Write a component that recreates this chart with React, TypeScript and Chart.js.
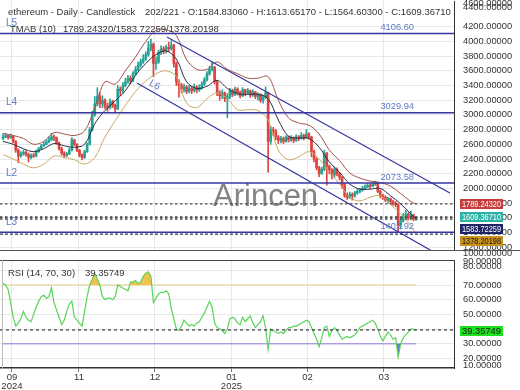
import React, { useEffect, useRef } from 'react';
import { Chart, registerables } from 'chart.js';

Chart.register(...registerables);

const FONT = '"Liberation Sans", Arial, sans-serif';

// ---------- price data (daily candles) ----------
const firstOpen = 2680;
const closes = [
  2700, 2720, 2690, 2710, 2640, 2520, 2440, 2470, 2490, 2460,
  2420, 2450, 2440, 2500, 2540, 2580, 2600, 2630, 2660, 2700,
  2690, 2620, 2540, 2480, 2450, 2470, 2520, 2660, 2600, 2520,
  2450, 2420, 2500, 2600, 2800, 3000, 3150, 3250, 3150, 3200,
  3120, 3100, 3180, 3130, 3080, 3350, 3330, 3400, 3450, 3500,
  3470, 3560, 3620, 3680, 3720, 3760, 3820, 3900, 3960, 3700,
  3720, 3850, 3900, 3870, 3920, 3900, 3950, 3700, 3450, 3400,
  3350, 3380, 3320, 3360, 3330, 3380, 3340, 3370, 3420, 3480,
  3560, 3620, 3650, 3450, 3300, 3260, 3300, 3220, 3250, 3330,
  3280, 3350, 3300, 3260, 3340, 3300, 3330, 3270, 3310, 3250,
  3280, 3200, 3240, 3300, 2640, 2800, 2780, 2700, 2650, 2680,
  2640, 2700, 2660, 2690, 2650, 2700, 2680, 2720, 2690, 2740,
  2700, 2500, 2400, 2280, 2200, 2260, 2480, 2300, 2250, 2180,
  2260, 2200, 2150, 2050, 1900, 1880, 1920, 1900, 1940, 1960,
  1980, 2000, 2020, 2040, 2030, 2060, 2080, 1960, 1900, 1880,
  1840, 1860, 1820, 1800, 1780, 1500, 1560, 1620, 1650, 1600,
  1640, 1584.8306, 1609.3671,
];
const highs = [
  2740, 2750, 2730, 2740, 2720, 2650, 2540, 2500, 2520, 2510,
  2480, 2470, 2480, 2520, 2560, 2600, 2630, 2660, 2700, 2750,
  2730, 2700, 2630, 2560, 2500, 2490, 2550, 2690, 2670, 2610,
  2530, 2470, 2520, 2620, 2830, 3050, 3250, 3370, 3300, 3260,
  3220, 3160, 3220, 3200, 3150, 3400, 3380, 3440, 3500, 3540,
  3530, 3590, 3660, 3720, 3760, 3820, 3860, 4000, 4030, 3980,
  3790, 3880, 3940, 3930, 3950, 3990, 4010, 3960, 3720, 3480,
  3430, 3420, 3400, 3400, 3390, 3420, 3400, 3410, 3450, 3510,
  3590, 3660, 3720, 3660, 3470, 3330, 3340, 3310, 3290, 3360,
  3350, 3380, 3370, 3320, 3370, 3350, 3360, 3340, 3340, 3320,
  3300, 3290, 3270, 3380, 3310, 2840, 2830, 2800, 2720, 2710,
  2700, 2720, 2710, 2720, 2700, 2730, 2720, 2760, 2740, 2800,
  2760, 2710, 2520, 2420, 2300, 2290, 2520, 2490, 2320, 2270,
  2290, 2280, 2220, 2160, 2070, 1940, 1950, 1940, 1960, 1990,
  2000, 2030, 2050, 2070, 2060, 2080, 2100, 2080, 1980, 1920,
  1900, 1880, 1870, 1840, 1820, 1790, 1600, 1660, 1700, 1670,
  1690, 1650, 1613.6517,
];
const lows = [
  2660, 2690, 2670, 2680, 2620, 2490, 2350, 2420, 2450, 2440,
  2360, 2400, 2420, 2430, 2490, 2530, 2570, 2590, 2620, 2650,
  2650, 2600, 2520, 2450, 2415, 2430, 2460, 2510, 2580, 2500,
  2430, 2386, 2410, 2490, 2590, 2780, 2980, 3120, 3100, 3100,
  3080, 3050, 3080, 3100, 3030, 3070, 3260, 3300, 3380, 3430,
  3420, 3450, 3540, 3600, 3650, 3700, 3740, 3800, 3870, 3520,
  3620, 3700, 3820, 3830, 3840, 3860, 3880, 3650, 3400, 3240,
  3300, 3310, 3290, 3300, 3290, 3310, 3300, 3320, 3350, 3400,
  3460, 3540, 3600, 3420, 3260, 3200, 3220, 3180, 2960, 3220,
  3250, 3260, 3270, 3230, 3250, 3260, 3280, 3240, 3250, 3220,
  3200, 3170, 3160, 3220, 2220, 2600, 2720, 2660, 2610, 2620,
  2610, 2630, 2630, 2640, 2620, 2640, 2650, 2670, 2660, 2680,
  2670, 2430, 2360, 2250, 2160, 2190, 2240, 2045, 2200, 2130,
  2150, 2170, 2115, 2000, 1880, 1850, 1860, 1840, 1880, 1920,
  1940, 1960, 1990, 2010, 2000, 2020, 2040, 1940, 1870, 1850,
  1820, 1800, 1790, 1770, 1750, 1403, 1450, 1540, 1600, 1570,
  1590, 1560, 1564.603,
];

// ---------- TMAB (10) bands, read at these bar indices ----------
const bandIdx = [
  0, 4, 8, 12, 16, 20, 24, 28, 32, 36, 40, 44, 48, 52, 56, 60, 64, 68, 72, 76, 80,
  84, 88, 92, 96, 100, 104, 108, 112, 116, 120, 124, 128, 132, 136, 140, 144, 148, 152, 156, 160, 162,
];
const bandUpper = [
  2750, 2720, 2680, 2600, 2640, 2760, 2740, 2720, 2780, 3100, 3450, 3420, 3600, 3790, 4000, 4150, 4160, 4080, 3750, 3620, 3620,
  3720, 3620, 3560, 3500, 3500, 3520, 3200, 2960, 2890, 2860, 2740, 2520, 2380, 2210, 2140, 2100, 2080, 2030, 1930, 1820, 1789.2432,
];
const bandMid = [
  2640, 2600, 2540, 2500, 2540, 2610, 2580, 2560, 2600, 2880, 3060, 3190, 3330, 3540, 3700, 3820, 3870, 3760, 3450, 3360, 3390,
  3470, 3360, 3290, 3280, 3280, 3220, 2930, 2710, 2685, 2680, 2560, 2360, 2220, 2060, 1990, 1990, 2000, 1900, 1790, 1650, 1583.72259,
];
const bandLower = [
  2460, 2400, 2330, 2280, 2330, 2440, 2420, 2390, 2330, 2420, 2700, 2920, 3130, 3320, 3460, 3560, 3600, 3520, 3160, 3100, 3220,
  3300, 3220, 3070, 3070, 3060, 2930, 2520, 2390, 2430, 2500, 2400, 2230, 2060, 1880, 1830, 1880, 1900, 1780, 1650, 1490, 1378.20198,
];

// ---------- RSI (14) ----------
const rsi = [
  71, 70, 67, 58, 48, 42, 44, 47, 52, 48,
  46, 45, 50, 55, 59, 62, 63, 61, 62, 68,
  58, 53, 48, 43, 46, 52, 57, 59, 48, 46,
  44, 42, 52, 62, 70, 74, 78, 74, 70, 62,
  60, 61, 61, 60, 62, 70, 69, 68, 67, 66,
  72, 72, 73, 71, 72, 76, 78, 79, 76, 58,
  61, 64, 65, 65, 66, 64, 54, 47, 40, 39,
  42, 46, 44, 42, 43, 42, 44, 45, 48, 51,
  55, 59, 55, 44, 41, 40, 39, 37, 40, 47,
  48, 47, 44, 43, 48, 45, 47, 49, 44, 41,
  43, 45, 49, 41, 26, 40, 39, 38, 37, 38,
  37, 39, 41, 41, 42, 42, 43, 44, 45, 46,
  45, 41, 37, 33, 28, 34, 41, 42, 35, 39,
  41, 39, 36, 33, 34, 35, 34, 35, 36, 38,
  41, 42, 43, 44, 45, 46, 44, 40, 35, 32,
  35, 38, 36, 33, 34, 21, 30, 34, 36, 38,
  40, 40, 39.35749,
];
const rsiUpperLevel = 70;
const rsiLowerLevel = 30;

// ---------- drawn levels / channel ----------
const levelNames = ['L5', 'L4', 'L2', 'L3'];
const levelValues = [4106.6, 3029.94, 2073.58, 1402.92];
const upperChannelX = [64.3, 175.3];
const upperChannelY = [4060, 1937];
const lowerChannelX = [52.5, 168.2];
const lowerChannelY = [3434, 1149];

// ---------- axes ----------
const monthTickIdx = [3.5, 29.8, 59.6, 89.6, 119.4, 149.4];
const monthTickLabels = [['09', '2024'], ['11'], ['12'], ['01', '2025'], ['02'], ['03']];
const priceTicks = [1200, 1400, 1600, 1800, 2000, 2200, 2400, 2600, 2800, 3000, 3200, 3400, 3600, 3800, 4000, 4200];
const priceEdgeTop = [4600, 4400];
const priceEdgeBottom = [1000];
const rsiTicks = [20, 30, 40, 50, 60, 70, 80];
const rsiEdgeTop = [90, 80];
const rsiEdgeBottom = [10];

const xMin = -1.18;
const xMax = 176.9;
const priceMin = 1161.9;
const priceMax = 4549.7;
const rsiMin = 13.44;
const rsiMax = 87.04;

const opens = closes.map((c, i) => (i === 0 ? firstOpen : closes[i - 1]));
const last = closes.length - 1;
const UP = '#25a396';
const DOWN = '#e0433f';
const candleColors = closes.map((c, i) => (c >= opens[i] ? UP : DOWN));
const LEVEL_COLOR = '#3636a0';
const LABEL_COLOR = '#5b7cc7';
const TEXT = '#333333';

function txt(ctx: CanvasRenderingContext2D, s: string, x: number, y: number, size: number, color: string, align: CanvasTextAlign = 'left', maxW?: number) {
  ctx.save();
  ctx.font = `${size}px ${FONT}`;
  ctx.fillStyle = color;
  ctx.textAlign = align;
  ctx.textBaseline = 'middle';
  if (maxW) ctx.fillText(s, x, y, maxW);
  else ctx.fillText(s, x, y);
  ctx.restore();
}

function badge(ctx: CanvasRenderingContext2D, s: string, yc: number, bg: string, fg: string) {
  const x0 = 460, w = 43, h = 10;
  ctx.save();
  ctx.fillStyle = bg;
  ctx.fillRect(x0, Math.round(yc - h / 2), w, h);
  ctx.restore();
  txt(ctx, s, x0 + w / 2, yc + 0.5, 9.3, fg, 'center', 39);
}

function hline(value: number, color: string, width: number, dash: number[] = [], order = 1) {
  return {
    type: 'line' as const,
    data: [{ x: xMin, y: value }, { x: xMax, y: value }],
    borderColor: color,
    borderWidth: width,
    borderDash: dash,
    pointRadius: 0,
    order,
  };
}

function noPad(s: any) {
  s.paddingTop = 0;
  s.paddingBottom = 0;
  s.paddingLeft = 0;
  s.paddingRight = 0;
}

const mainDecor = {
  id: 'mainDecor',
  beforeDatasetsDraw(chart: any) {
    const ctx = chart.ctx;
    ctx.save();
    ctx.font = `31px ${FONT}`;
    ctx.fillStyle = 'rgba(100,100,100,0.8)';
    ctx.textBaseline = 'alphabetic';
    ctx.fillText('Arincen', 213, 206);
    ctx.restore();
  },
  afterDatasetsDraw(chart: any) {
    const { ctx } = chart;
    const x = chart.scales.x;
    const y = chart.scales.y;
    levelNames.forEach((n, k) => {
      const py = y.getPixelForValue(levelValues[k]);
      txt(ctx, n, 6, py - 10, 10, LABEL_COLOR);
      txt(ctx, levelValues[k].toFixed(2), 414, py - 6, 9.3, LABEL_COLOR, 'right');
    });
    // channel label
    const x0 = x.getPixelForValue(lowerChannelX[0]);
    const y0 = y.getPixelForValue(lowerChannelY[0]);
    const x1 = x.getPixelForValue(lowerChannelX[1]);
    const y1 = y.getPixelForValue(lowerChannelY[1]);
    const ang = Math.atan2(y1 - y0, x1 - x0);
    ctx.save();
    ctx.translate(x0 + 11 * Math.cos(ang), y0 + 11 * Math.sin(ang));
    ctx.rotate(ang);
    txt(ctx, 'L6', 0, -7, 10, LABEL_COLOR);
    ctx.restore();
    // titles
    txt(ctx, 'ethereum - Daily - Candlestick', 8, 12, 9.5, TEXT);
    txt(ctx, `202/221 - O:${opens[last].toFixed(5)} - H:${highs[last].toFixed(5)} - L:${lows[last].toFixed(5)} - C:${closes[last].toFixed(5)}`, 145, 12, 9.5, TEXT);
    txt(ctx, 'TMAB (10)', 10, 29, 9.5, TEXT);
    txt(ctx, `${bandUpper[bandUpper.length - 1].toFixed(5)}/${bandMid[bandMid.length - 1].toFixed(5)}/${bandLower[bandLower.length - 1].toFixed(5)}`, 63, 29, 9.5, TEXT);
  },
  afterDraw(chart: any) {
    const { ctx } = chart;
    const y = chart.scales.y;
    const items = [
      { v: bandUpper[bandUpper.length - 1], bg: '#c63d3d', fg: '#ffffff' },
      { v: closes[last], bg: '#2db3a6', fg: '#ffffff' },
      { v: bandMid[bandMid.length - 1], bg: '#1d2463', fg: '#ffffff' },
      { v: bandLower[bandLower.length - 1], bg: '#c9911d', fg: '#1a1a1a' },
    ];
    let prev = -1e9;
    items.forEach((it) => {
      let py = y.getPixelForValue(it.v);
      py = Math.max(py, prev + 12);
      prev = py;
      badge(ctx, it.v.toFixed(5), py, it.bg, it.fg);
    });
    const top = chart.chartArea.top;
    const bottom = chart.chartArea.bottom;
    txt(ctx, priceEdgeTop[0].toFixed(5), 463, top + 2, 9.3, TEXT);
    txt(ctx, priceEdgeTop[1].toFixed(5), 463, top + 6, 9.3, TEXT);
    txt(ctx, priceEdgeBottom[0].toFixed(5), 463, bottom + 3, 9.3, TEXT);
    ctx.save();
    ctx.fillStyle = '#555';
    ctx.fillRect(0, bottom, 520, 1);
    ctx.restore();
  },
};

const rsiDecor = {
  id: 'rsiDecor',
  afterDatasetsDraw(chart: any) {
    const { ctx } = chart;
    txt(ctx, 'RSI (14, 70, 30)', 8, 15, 9.5, TEXT);
    txt(ctx, rsi[last].toFixed(5), 85, 15, 9.5, TEXT);
  },
  afterDraw(chart: any) {
    const { ctx } = chart;
    const y = chart.scales.y;
    const { top, bottom, left, right } = chart.chartArea;
    ctx.save();
    ctx.fillStyle = '#444';
    ctx.fillRect(left, top, right - left, 1);
    ctx.fillStyle = '#bdbdbd';
    ctx.fillRect(left + 2, top, 1, bottom - top);
    ctx.restore();
    txt(ctx, rsiEdgeTop[0].toFixed(5), 463, top + 1.5, 9.3, TEXT);
    txt(ctx, rsiEdgeTop[1].toFixed(5), 463, top + 6, 9.3, TEXT);
    txt(ctx, rsiEdgeBottom[0].toFixed(5), 463, bottom - 3, 9.3, TEXT);
    badge(ctx, rsi[last].toFixed(5), y.getPixelForValue(rsi[last]) + 1, '#1fe01f', '#1a1a1a');
  },
};

function xScale(showTicks: boolean) {
  return {
    type: 'linear' as const,
    min: xMin,
    max: xMax,
    offset: false,
    grid: { color: '#e8e8e8', drawTicks: showTicks, tickLength: 4, tickColor: '#777', offset: false },
    border: { display: showTicks, color: '#333', width: 1.5 },
    ticks: {
      display: showTicks,
      autoSkip: false,
      maxRotation: 0,
      padding: 1,
      color: TEXT,
      font: { family: FONT, size: 9.5, lineHeight: 0.95 },
      callback: (_v: any, i: number) => monthTickLabels[i],
    },
    afterBuildTicks: (s: any) => {
      s.ticks = monthTickIdx.map((v) => ({ value: v }));
    },
    afterFit: (s: any) => {
      s.height = showTicks ? 22 : 0;
      noPad(s);
    },
  };
}

function mainConfig(): any {
  const body = closes.map((c, i) => ({ x: i, y: [opens[i], c] }));
  const wick = closes.map((_c, i) => ({ x: i, y: [lows[i], highs[i]] }));
  const band = (arr: number[]) => arr.map((v, k) => ({ x: bandIdx[k], y: v }));
  return {
    type: 'bar',
    data: {
      datasets: [
        hline(bandUpper[bandUpper.length - 1], '#4a4a4a', 1.3, [2.5, 2.5], 1),
        hline(closes[last], '#4a4a4a', 1.6, [2.5, 2.5], 1),
        hline(bandMid[bandMid.length - 1], '#4a4a4a', 1.6, [2.5, 2.5], 1),
        hline(bandLower[bandLower.length - 1], '#333366', 1.2, [3, 2], 1),
        ...levelValues.map((v) => hline(v, LEVEL_COLOR, 1.5, [], 2)),
        {
          type: 'line',
          data: upperChannelX.map((xv, k) => ({ x: xv, y: upperChannelY[k] })),
          borderColor: LEVEL_COLOR, borderWidth: 1.2, pointRadius: 0, order: 2,
        },
        {
          type: 'line',
          data: lowerChannelX.map((xv, k) => ({ x: xv, y: lowerChannelY[k] })),
          borderColor: LEVEL_COLOR, borderWidth: 1.2, pointRadius: 0, order: 2,
        },
        { type: 'line', data: band(bandUpper), borderColor: '#a4514b', borderWidth: 1, pointRadius: 0, tension: 0.35, order: 3 },
        { type: 'line', data: band(bandMid), borderColor: '#2b2b47', borderWidth: 1, pointRadius: 0, tension: 0.35, order: 3 },
        { type: 'line', data: band(bandLower), borderColor: '#c9a962', borderWidth: 1, pointRadius: 0, tension: 0.35, order: 3 },
        { type: 'bar', data: body, backgroundColor: candleColors, barThickness: 2, minBarLength: 1, grouped: false, order: 4 },
        { type: 'bar', data: wick, backgroundColor: candleColors, barThickness: 1, grouped: false, order: 5 },
      ],
    },
    options: {
      responsive: false,
      maintainAspectRatio: false,
      devicePixelRatio: 1,
      animation: false,
      events: [],
      layout: { padding: { top: 1, bottom: 8, left: 0, right: 0 } },
      plugins: { legend: { display: false }, tooltip: { enabled: false } },
      scales: {
        x: xScale(false),
        y: {
          type: 'linear',
          position: 'right',
          min: priceMin,
          max: priceMax,
          grid: { color: '#e8e8e8', drawTicks: false },
          border: { display: true, color: '#333', width: 1 },
          ticks: { padding: 9, color: TEXT, font: { family: FONT, size: 9.3 }, callback: (v: any) => Number(v).toFixed(5) },
          afterBuildTicks: (s: any) => {
            s.ticks = priceTicks.map((v) => ({ value: v }));
          },
          afterFit: (s: any) => {
            s.width = 66;
            noPad(s);
          },
        },
      },
    },
    plugins: [mainDecor],
  };
}

function rsiConfig(): any {
  const pts = rsi.map((v, i) => ({ x: i, y: v }));
  return {
    type: 'line',
    data: {
      datasets: [
        hline(rsi[last], '#111111', 1, [3, 3], 0),
        {
          data: pts, borderColor: '#58d458', borderWidth: 1.2, pointRadius: 0, order: 1,
          fill: { target: { value: rsiUpperLevel }, above: '#f2c24f', below: 'rgba(0,0,0,0)' },
        },
        {
          data: pts, borderColor: 'rgba(0,0,0,0)', borderWidth: 0, pointRadius: 0, order: 2,
          fill: { target: { value: rsiLowerLevel }, above: 'rgba(0,0,0,0)', below: '#6b7cc2' },
        },
        { data: [{ x: 0, y: rsiUpperLevel }, { x: last, y: rsiUpperLevel }], borderColor: '#ebdcaa', borderWidth: 1.5, pointRadius: 0, order: 3 },
        { data: [{ x: 0, y: rsiLowerLevel }, { x: last, y: rsiLowerLevel }], borderColor: '#bba5e6', borderWidth: 1.5, pointRadius: 0, order: 3 },
      ],
    },
    options: {
      responsive: false,
      maintainAspectRatio: false,
      devicePixelRatio: 1,
      animation: false,
      events: [],
      layout: { padding: { top: 2, bottom: 0, left: 0, right: 0 } },
      plugins: { legend: { display: false }, tooltip: { enabled: false } },
      scales: {
        x: xScale(true),
        y: {
          type: 'linear',
          position: 'right',
          min: rsiMin,
          max: rsiMax,
          grid: { color: '#e8e8e8', drawTicks: false },
          border: { display: true, color: '#333', width: 1 },
          ticks: {
            padding: 9, color: TEXT, font: { family: FONT, size: 9.3 },
            callback: (v: any) => (Number(v) === rsiEdgeTop[1] ? '' : Number(v).toFixed(5)),
          },
          afterBuildTicks: (s: any) => {
            s.ticks = rsiTicks.map((v) => ({ value: v }));
          },
          afterFit: (s: any) => {
            s.width = 66;
            noPad(s);
          },
        },
      },
    },
    plugins: [rsiDecor],
  };
}

export default function App() {
  const mainRef = useRef<HTMLCanvasElement>(null);
  const rsiRef = useRef<HTMLCanvasElement>(null);
  useEffect(() => {
    const c1 = new Chart(mainRef.current as HTMLCanvasElement, mainConfig());
    const c2 = new Chart(rsiRef.current as HTMLCanvasElement, rsiConfig());
    return () => {
      c1.destroy();
      c2.destroy();
    };
  }, []);
  return (
    <div style={{ position: 'absolute', left: 0, top: 0, width: 520, height: 390, background: '#fff', overflow: 'hidden' }}>
      <canvas ref={mainRef} width={520} height={258} style={{ position: 'absolute', left: 0, top: 0, width: 520, height: 258 }} />
      <canvas ref={rsiRef} width={520} height={132} style={{ position: 'absolute', left: 0, top: 258, width: 520, height: 132 }} />
    </div>
  );
}
